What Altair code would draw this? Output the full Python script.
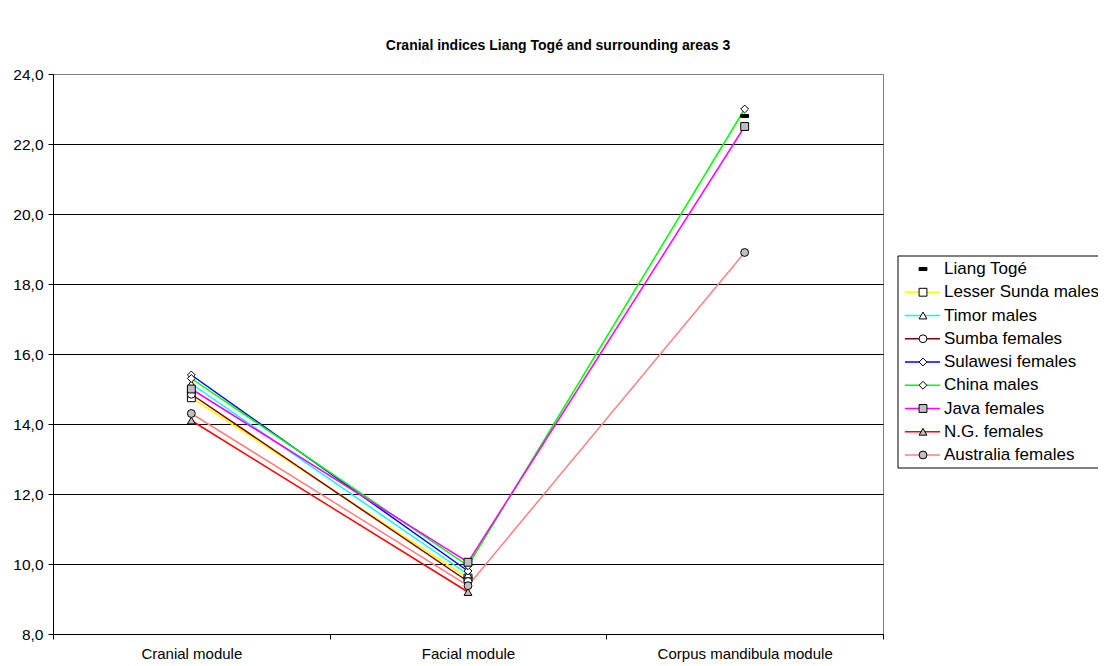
import altair as alt
import pandas as pd

categories = ["Cranial module", "Facial module", "Corpus mandibula module"]
series_names = ["Liang Togé", "Lesser Sunda males", "Timor males", "Sumba females",
                "Sulawesi females", "China males", "Java females", "N.G. females",
                "Australia females"]
liang_toge = [14.9, 9.6, 22.8]
lesser_sunda = [14.75, 9.6, None]
timor = [15.15, 9.7, None]
sumba = [14.85, 9.5, None]
sulawesi = [15.4, 9.8, None]
china = [15.3, 9.95, 23.0]
java = [15.0, 10.05, 22.5]
ng = [14.1, 9.2, None]
australia = [14.3, 9.38, 18.9]
all_values = [liang_toge, lesser_sunda, timor, sumba, sulawesi, china, java, ng, australia]

line_colors = ["#000000", "#FFFF00", "#00FFFF", "#800000", "#0000FF", "#00FF00",
               "#FF00FF", "#FF0000", "#FF8080"]
dash = "M-1,-0.38H1V0.38H-1Z"
shapes = [dash, "square", "triangle-up", "circle", "diamond", "diamond", "square",
          "triangle-up", "circle"]
fills = ["#000000", "#FFFFFF", "#FFFFFF", "#FFFFFF", "#FFFFFF", "#FFFFFF", "#C0C0C0",
         "#C0C0C0", "#C0C0C0"]

rows = []
for s, vals in zip(series_names, all_values):
    for c, v in zip(categories, vals):
        if v is not None:
            rows.append({"series": s, "category": c, "value": v})
df = pd.DataFrame(rows)
df_lines = df[df["series"] != "Liang Togé"]
legend_df = pd.DataFrame({"series": series_names})
legend_lines_df = legend_df[legend_df["series"] != "Liang Togé"]
box_df = pd.DataFrame({"k": [0]})

FONT = "Liberation Sans"
MSIZE = 62

x_enc = alt.X("category:N", sort=categories,
              scale=alt.Scale(type="band", paddingInner=0, paddingOuter=0),
              axis=alt.Axis(title=None, labelAngle=0, tickBand="extent", tickSize=5,
                            labelPadding=7, labelFontSize=15, labelLimit=0,
                            labelColor="black",
                            domainColor="black", tickColor="black", grid=False,
                            labelFont=FONT))
color_scale = alt.Scale(domain=series_names, range=line_colors)

lines = alt.Chart(df_lines).mark_line(strokeWidth=1.5).encode(
    x=x_enc,
    y=alt.Y("value:Q", scale=alt.Scale(domain=[8, 24], nice=False, zero=False),
            axis=alt.Axis(title=None, values=[8, 10, 12, 14, 16, 18, 20, 22, 24],
                          labelExpr="replace(format(datum.value, '.1f'), '.', ',')",
                          grid=True,
                          gridColor={"condition": {"test": "datum.value >= 24", "value": "#808080"},
                                     "value": "black"},
                          gridWidth=1, domainColor="black", tickColor="black",
                          tickSize=5, labelPadding=5, labelFontSize=15.5,
                          labelColor="black", labelFont=FONT)),
    color=alt.Color("series:N", scale=color_scale, legend=None),
)

points = alt.Chart(df).mark_point(filled=True, stroke="black", strokeWidth=1,
                                  opacity=1, size=MSIZE).encode(
    x=alt.X("category:N", sort=categories,
            scale=alt.Scale(type="band", paddingInner=0, paddingOuter=0)),
    y=alt.Y("value:Q", scale=alt.Scale(domain=[8, 24], nice=False, zero=False), axis=None),
    shape=alt.Shape("series:N", scale=alt.Scale(domain=series_names, range=shapes), legend=None),
    fill=alt.Fill("series:N", scale=alt.Scale(domain=series_names, range=fills), legend=None),
)

leg_y = alt.Y("series:N", sort=series_names,
              scale=alt.Scale(type="point", domain=series_names, range=[195, 381], padding=0),
              axis=None)

box = alt.Chart(box_df).mark_rect(fill="white", stroke="black", strokeWidth=1).encode(
    x=alt.value(845), x2=alt.value(1053), y=alt.value(182), y2=alt.value(394))

leg_rules = alt.Chart(legend_lines_df).mark_rule(strokeWidth=1.5).encode(
    y=leg_y, x=alt.value(852), x2=alt.value(887),
    color=alt.Color("series:N", scale=color_scale, legend=None))

leg_points = alt.Chart(legend_df).mark_point(filled=True, stroke="black", strokeWidth=1,
                                             opacity=1, size=MSIZE).encode(
    y=leg_y, x=alt.value(870),
    shape=alt.Shape("series:N", scale=alt.Scale(domain=series_names, range=shapes), legend=None),
    fill=alt.Fill("series:N", scale=alt.Scale(domain=series_names, range=fills), legend=None))

leg_text = alt.Chart(legend_df).mark_text(align="left", baseline="middle", fontSize=17,
                                          font=FONT, color="black").encode(
    y=leg_y, x=alt.value(891), text="series:N")

chart = alt.layer(lines, points, box, leg_rules, leg_points, leg_text).resolve_scale(
    y="independent", shape="independent", fill="independent", color="independent"
).properties(
    width=830, height=560,
    title=alt.TitleParams("Cranial indices Liang Togé and surrounding areas 3",
                          fontSize=14, fontWeight="bold", font=FONT, color="black",
                          anchor="middle", dx=90, offset=14),
    autosize=alt.AutoSizeParams(type="none"),
    padding={"left": 45, "top": 66, "right": 215, "bottom": 29},
).configure_view(stroke="#808080", strokeWidth=1)

chart.save("out.html", embed_options={"renderer": "svg", "actions": False})
